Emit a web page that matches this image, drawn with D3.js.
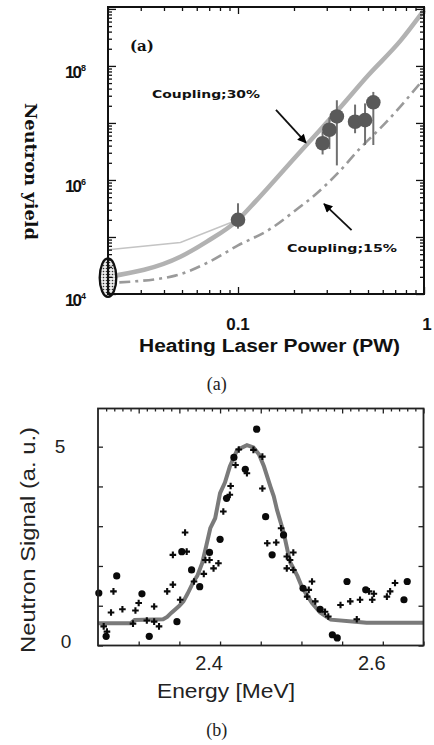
<!DOCTYPE html>
<html><head><meta charset="utf-8">
<script src="https://cdn.jsdelivr.net/npm/d3@7"></script>
<style>html,body{margin:0;padding:0;background:#fff;}svg{display:block;}</style>
</head><body>
<script>
// ---------- Panel (a) data ----------
const powerTicksMajor = [0.1, 1];
const powerTickLabels = ["0.1", "1"];
const powerTicksMinor = [0.02,0.03,0.04,0.05,0.06,0.07,0.08,0.09,0.2,0.3,0.4,0.5,0.6,0.7,0.8,0.9];
const yieldTicksMajor = [1e4,1e5,1e6,1e7,1e8,1e9];
const yieldLabelExps = [4, 6, 8];
// coupling 30% (thick gray)
const c30Power = [0.02, 0.049, 0.068, 0.1, 0.125, 0.158, 0.239, 0.34, 0.5, 0.75, 1.0];
const c30Yield = [2.0e4, 4.5e4, 8.3e4, 2.0e5, 4.3e5, 1.0e6, 4.5e6, 1.6e7, 6.8e7, 2.8e8, 9.5e8];
// thin gray branch at low power
const thinPower = [0.02, 0.049, 0.1];
const thinYield = [6.0e4, 8.0e4, 2.0e5];
// coupling 15% (dash-dot)
const c15Power = [0.023, 0.046, 0.068, 0.1, 0.15, 0.2, 0.26, 0.35, 0.45, 0.63, 1.0];
const c15Yield = [1.6e4, 2.1e4, 3.5e4, 7.1e4, 1.4e5, 2.8e5, 5.5e5, 1.4e6, 3.5e6, 1.05e7, 6.0e7];
// measured points with error bars
const expPower = [0.1, 0.285, 0.31, 0.34, 0.426, 0.482, 0.534];
const expYield = [2.0e5, 4.4e6, 7.6e6, 1.3e7, 1.05e7, 1.12e7, 2.3e7];
const expLow   = [1.4e5, 2.8e6, 3.5e6, 1.8e6, 6.6e6, 4.1e6, 4.1e6];
const expHigh  = [3.9e5, 7.1e6, 1.25e7, 2.5e7, 2.1e7, 2.2e7, 3.5e7];
// shaded ellipse at lowest power
const ellipsePower = [0.02];
const ellipseLow = [8.9e3];
const ellipseHigh = [4.2e4];

// ---------- Panel (b) data ----------
const energyTicksMajor = [2.3, 2.35, 2.4, 2.45, 2.5, 2.55, 2.6, 2.65];
const energyTicksMinor = [2.26,2.27,2.28,2.29,2.31,2.32,2.33,2.34,2.36,2.37,2.38,2.39,2.41,2.42,2.43,2.44,2.46,2.47,2.48,2.49,2.51,2.52,2.53,2.54,2.56,2.57,2.58,2.59,2.61,2.62,2.63,2.64];
const energyLabelVals = [2.4, 2.6];
const energyLabels = ["2.4", "2.6"];
const signalTicks = [0, 1, 2, 3, 4, 5];
const signalLabelVals = [0, 5];
const fitE = [2.25, 2.29, 2.295, 2.33, 2.335, 2.34, 2.35, 2.355, 2.36, 2.3675, 2.372, 2.378, 2.383, 2.388, 2.394, 2.400, 2.406, 2.412, 2.421, 2.433, 2.441, 2.448, 2.454, 2.462, 2.466, 2.470, 2.478, 2.486, 2.495, 2.501, 2.513, 2.523, 2.536, 2.566, 2.58, 2.65];
const fitS = [0.56, 0.56, 0.64, 0.66, 0.72, 0.82, 1.0, 1.11, 1.3, 1.61, 1.75, 2.07, 2.5, 2.95, 3.2, 3.83, 4.1, 4.50, 4.92, 5.04, 4.98, 4.80, 4.50, 3.99, 3.75, 3.41, 2.85, 2.1, 1.75, 1.45, 1.07, 0.83, 0.65, 0.60, 0.57, 0.57];
const dotE = [2.251,2.260,2.273,2.304,2.313,2.347,2.353,2.365,2.375,2.387,2.400,2.408,2.417,2.431,2.445,2.456,2.464,2.478,2.502,2.523,2.538,2.544,2.556,2.579,2.626,2.630];
const dotS = [1.32,0.23,1.75,1.30,0.23,0.60,2.36,1.90,1.48,2.34,2.67,3.70,4.73,4.43,5.44,3.24,2.28,2.78,1.44,0.91,0.27,0.19,1.61,1.40,1.15,1.61];
const crossE = [2.257,2.261,2.269,2.266,2.280,2.293,2.296,2.300,2.310,2.319,2.319,2.325,2.335,2.342,2.351,2.342,2.357,2.359,2.368,2.380,2.382,2.387,2.392,2.398,2.404,2.412,2.413,2.419,2.423,2.433,2.441,2.452,2.452,2.458,2.469,2.475,2.482,2.486,2.490,2.482,2.490,2.509,2.513,2.507,2.517,2.529,2.533,2.548,2.560,2.568,2.572,2.583,2.587,2.589,2.605,2.615,2.609];
const crossS = [0.48,0.35,1.36,0.83,0.91,0.55,0.88,1.07,0.63,0.98,0.60,0.48,1.36,1.53,1.15,2.28,2.84,2.36,1.61,1.80,2.15,2.15,1.94,2.07,3.37,3.79,4.01,4.54,4.93,4.33,4.92,4.75,3.95,2.57,2.59,2.95,2.24,2.15,2.34,1.94,1.90,1.40,1.61,1.23,1.11,0.85,0.73,1.02,1.11,0.66,1.15,1.36,1.15,1.30,1.23,1.57,1.36];

const W = 434, H = 745;
const svg = d3.select("body").append("svg").attr("width", W).attr("height", H);
const defs = svg.append("defs");
const pat = defs.append("pattern").attr("id","dots").attr("width",3).attr("height",3).attr("patternUnits","userSpaceOnUse");
pat.append("rect").attr("width",3).attr("height",3).attr("fill","#ececec");
pat.append("circle").attr("cx",1.5).attr("cy",1.5).attr("r",0.8).attr("fill","#333");
defs.append("marker").attr("id","arrowHead").attr("viewBox","0 0 10 10").attr("refX",9).attr("refY",5)
  .attr("markerWidth",5.5).attr("markerHeight",5).attr("orient","auto").attr("markerUnits","strokeWidth")
  .append("path").attr("d","M0,0 L10,5 L0,10 z").attr("fill","#000");

// ================= Panel (a) =================
const xA = d3.scaleLog().domain([0.02, 1]).range([108, 424]);
const yA = d3.scaleLog().domain([1e4, 1.08e9]).range([294, 7]);
const gA = svg.append("g");

const lineA = d3.line().x(d => xA(d[0])).y(d => yA(d[1]));
const lineSmooth = d3.line().x(d => xA(d[0])).y(d => yA(d[1])).curve(d3.curveMonotoneX);
gA.append("path").datum(thinPower.map((p,i)=>[p,thinYield[i]])).attr("d", lineA)
  .attr("fill","none").attr("stroke","#c4c4c4").attr("stroke-width",1.5);
gA.append("path").datum(c30Power.map((p,i)=>[p,c30Yield[i]])).attr("d", lineSmooth)
  .attr("fill","none").attr("stroke","#b2b2b2").attr("stroke-width",4.5).attr("stroke-linejoin","round");
gA.append("path").datum(c15Power.map((p,i)=>[p,c15Yield[i]])).attr("d", lineSmooth)
  .attr("fill","none").attr("stroke","#9a9a9a").attr("stroke-width",2.6).attr("stroke-dasharray","11,5,3,5");

// error bars and points
expPower.forEach((p,i)=>{
  gA.append("line").attr("x1",xA(p)).attr("x2",xA(p)).attr("y1",yA(expLow[i])).attr("y2",yA(expHigh[i]))
    .attr("stroke","#707070").attr("stroke-width",2);
});
gA.selectAll("circle.exp").data(expPower).join("circle").attr("class","exp")
  .attr("cx",(d)=>xA(d)).attr("cy",(d,i)=>yA(expYield[i])).attr("r",7.3).attr("fill","#595959");

// ellipse
ellipsePower.forEach((p,i)=>{
  const y1 = yA(ellipseLow[i]), y2 = yA(ellipseHigh[i]);
  gA.append("ellipse").attr("cx",xA(p)).attr("cy",(y1+y2)/2).attr("rx",8.3).attr("ry",(y1-y2)/2)
    .attr("fill","url(#dots)").attr("stroke","#111").attr("stroke-width",2.3);
});

// axes (ticks inward)
function tickAxis(axisFn, scale, vals, size, transform){
  const g = gA.append("g").attr("transform",transform)
    .call(axisFn(scale).tickValues(vals).tickSize(size).tickFormat(""));
  g.select(".domain").remove();
  g.selectAll("line").attr("stroke","#111").attr("stroke-width",1.3);
  return g;
}
const yMinor = [];
[1e4,1e5,1e6,1e7,1e8].forEach(d=>{for(let k=2;k<=9;k++){const v=d*k; if(v<1.08e9) yMinor.push(v);}});
tickAxis(d3.axisRight, yA, yieldTicksMajor.filter(v=>v<1.08e9), 8, "translate(108,0)");
tickAxis(d3.axisRight, yA, yMinor, 4, "translate(108,0)");
tickAxis(d3.axisLeft, yA, yieldTicksMajor.filter(v=>v<1.08e9), 8, "translate(424,0)");
tickAxis(d3.axisLeft, yA, yMinor, 4, "translate(424,0)");
tickAxis(d3.axisTop, xA, powerTicksMajor, 7, "translate(0,294)");
tickAxis(d3.axisTop, xA, powerTicksMinor, 4, "translate(0,294)");
tickAxis(d3.axisBottom, xA, powerTicksMajor, 7, "translate(0,7)");
tickAxis(d3.axisBottom, xA, powerTicksMinor, 4, "translate(0,7)");
gA.append("rect").attr("x",108).attr("y",7).attr("width",316).attr("height",287)
  .attr("fill","none").attr("stroke","#111").attr("stroke-width",2);

// tick labels
powerTicksMajor.forEach((v,i)=>{
  gA.append("text").attr("x",xA(v)+(i===1?3:0)).attr("y",330).attr("text-anchor","middle")
    .attr("font-family","Liberation Sans, Arial, sans-serif").attr("font-weight","bold").attr("font-size",17)
    .attr("fill","#111").text(powerTickLabels[i]);
});
yieldLabelExps.forEach(e=>{
  const t = gA.append("text").attr("x",65).attr("y",yA(Math.pow(10,e))+12)
    .attr("font-family","Liberation Sans, Arial, sans-serif").attr("font-weight","bold").attr("font-size",17)
    .attr("fill","#111");
  t.append("tspan").attr("letter-spacing",-2).text("10");
  t.append("tspan").attr("dx",1).attr("dy",-7).attr("font-size",9).text(String(e));
});
gA.append("text").attr("transform","translate(25,171.5) rotate(90)").attr("text-anchor","middle")
  .attr("font-family","DejaVu Serif, serif").attr("font-weight","bold").attr("font-size",16)
  .attr("textLength",137).attr("lengthAdjust","spacingAndGlyphs").attr("fill","#111").text("Neutron yield");
gA.append("text").attr("x",269.5).attr("y",352).attr("text-anchor","middle")
  .attr("font-family","Liberation Sans, Arial, sans-serif").attr("font-weight","bold").attr("font-size",18)
  .attr("textLength",261).attr("lengthAdjust","spacingAndGlyphs").attr("fill","#111").text("Heating Laser Power (PW)");
gA.append("text").attr("x",130).attr("y",51)
  .attr("font-family","DejaVu Serif, serif").attr("font-weight","bold").attr("font-size",15)
  .attr("fill","#111").text("(a)");
gA.append("text").attr("x",152).attr("y",98)
  .attr("font-family","DejaVu Sans, sans-serif").attr("font-weight","bold").attr("font-size",11)
  .attr("textLength",108).attr("lengthAdjust","spacingAndGlyphs").attr("fill","#111").text("Coupling;30%");
gA.append("text").attr("x",287).attr("y",252)
  .attr("font-family","DejaVu Sans, sans-serif").attr("font-weight","bold").attr("font-size",11)
  .attr("textLength",110).attr("lengthAdjust","spacingAndGlyphs").attr("fill","#111").text("Coupling;15%");
// arrows (data coords)
const arrows = [[[0.16,1.7e7],[0.232,4.5e6]], [[0.408,1.32e5],[0.29,3.8e5]]];
arrows.forEach(a=>{
  gA.append("line").attr("x1",xA(a[0][0])).attr("y1",yA(a[0][1])).attr("x2",xA(a[1][0])).attr("y2",yA(a[1][1]))
    .attr("stroke","#111").attr("stroke-width",1.8).attr("marker-end","url(#arrowHead)");
});
svg.append("text").attr("x",216.7).attr("y",390).attr("text-anchor","middle")
  .attr("font-family","Liberation Serif, serif").attr("font-size",18).attr("fill","#222").text("(a)");

// ================= Panel (b) =================
const xB = d3.scaleLinear().domain([2.25, 2.65]).range([98, 423.5]);
const yB = d3.scaleLinear().domain([0, 5.96]).range([645.5, 408.5]);
const gB = svg.append("g");
function tickAxisB(axisFn, scale, vals, size, transform){
  const g = gB.append("g").attr("transform",transform)
    .call(axisFn(scale).tickValues(vals).tickSize(size).tickFormat(""));
  g.select(".domain").remove();
  g.selectAll("line").attr("stroke","#222").attr("stroke-width",1.3);
}
tickAxisB(d3.axisRight, yB, signalTicks, 5, "translate(98,0)");
tickAxisB(d3.axisLeft, yB, signalTicks, 5, "translate(423.5,0)");
tickAxisB(d3.axisTop, xB, energyTicksMajor, 4, "translate(0,645.5)");
tickAxisB(d3.axisBottom, xB, energyTicksMajor, 5, "translate(0,408.5)");
tickAxisB(d3.axisBottom, xB, energyTicksMinor, 3, "translate(0,408.5)");

const lineB = d3.line().x(d=>xB(d[0])).y(d=>yB(d[1]));
gB.append("path").datum(fitE.map((e,i)=>[e,fitS[i]])).attr("d",lineB)
  .attr("fill","none").attr("stroke","#7a7a7a").attr("stroke-width",4).attr("stroke-linejoin","miter");

gB.selectAll("circle.dot").data(dotE).join("circle").attr("class","dot")
  .attr("cx",d=>xB(d)).attr("cy",(d,i)=>yB(dotS[i])).attr("r",3.6).attr("fill","#0a0a0a");
gB.selectAll("path.cross").data(crossE).join("path").attr("class","cross")
  .attr("d",(d,i)=>{const x=xB(d), y=yB(crossS[i]); return `M${x-3.3},${y}H${x+3.3}M${x},${y-3.3}V${y+3.3}`;})
  .attr("stroke","#0a0a0a").attr("stroke-width",2.1).attr("fill","none");

gB.append("rect").attr("x",98).attr("y",408.5).attr("width",325.5).attr("height",237)
  .attr("fill","none").attr("stroke","#222").attr("stroke-width",1.8);

energyLabelVals.forEach((v,i)=>{
  gB.append("text").attr("x",xB(v)-11).attr("y",670).attr("text-anchor","middle")
    .attr("font-family","Liberation Sans, Arial, sans-serif").attr("font-size",20).attr("fill","#222").text(energyLabels[i]);
});
signalLabelVals.forEach(v=>{
  gB.append("text").attr("x",v===0?66:60).attr("y",yB(v)+(v===0?2:6.5)).attr("text-anchor","middle")
    .attr("font-family","Liberation Sans, Arial, sans-serif").attr("font-size",19).attr("fill","#222").text(String(v));
});
gB.append("text").attr("x",226).attr("y",698).attr("text-anchor","middle")
  .attr("font-family","Liberation Sans, Arial, sans-serif").attr("font-size",20)
  .attr("textLength",138).attr("lengthAdjust","spacingAndGlyphs").attr("fill","#222").text("Energy [MeV]");
gB.append("text").attr("transform","translate(35,540) rotate(-90)").attr("text-anchor","middle")
  .attr("font-family","Liberation Sans, Arial, sans-serif").attr("font-size",20)
  .attr("textLength",226).attr("lengthAdjust","spacingAndGlyphs").attr("fill","#222").text("Neutron Signal (a. u.)");
svg.append("text").attr("x",216.7).attr("y",736).attr("text-anchor","middle")
  .attr("font-family","Liberation Serif, serif").attr("font-size",18).attr("fill","#222").text("(b)");
</script>
</body></html>
